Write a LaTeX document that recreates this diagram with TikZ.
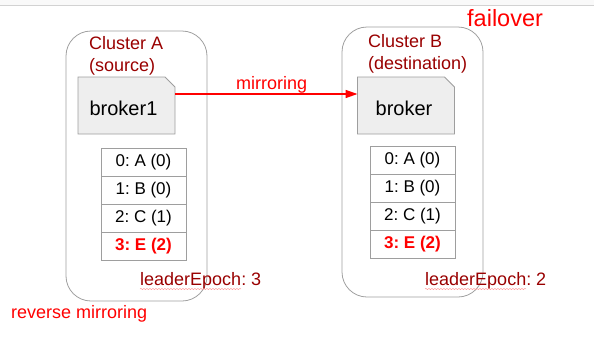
\documentclass[tikz,border=0pt]{standalone}
\usepackage{fontspec}
\setmainfont{Liberation Sans}
\frenchspacing
\usetikzlibrary{arrows.meta, positioning, backgrounds, decorations.pathmorphing}
\definecolor{darkred}{HTML}{990000}
\definecolor{brightred}{HTML}{FF0000}
\definecolor{boxfill}{HTML}{EEEEEE}
\definecolor{boxline}{HTML}{9E9E9E}
\definecolor{clusterline}{HTML}{A0A0A0}

\begin{document}
\begin{tikzpicture}[x=1pt, y=-1pt,
  cluster/.style={
    draw=clusterline, line width=0.8pt, rounded corners=25pt,
    minimum width=141pt, minimum height=270pt
  },
  broker/.style={
    minimum width=97pt, minimum height=57pt, inner sep=0pt, outer sep=0pt,
    font=\fontsize{20}{24}\selectfont
  },
  brokeredge/.style={fill=boxfill, draw=boxline, line width=0.8pt},
  cell/.style={
    draw=boxline, line width=0.8pt, minimum width=85pt, minimum height=28pt,
    inner sep=0pt, outer sep=0pt, font=\fontsize{17}{20}\selectfont
  },
  newest/.style={cell, text=brightred, font=\fontsize{17}{20}\selectfont\bfseries},
  title/.style={
    text=darkred, align=left, inner sep=0pt, anchor=north west,
    font=\fontsize{18}{22}\selectfont
  },
  epoch/.style={text=darkred, inner sep=0pt, anchor=base west, font=\fontsize{18}{22}\selectfont},
  note/.style={text=brightred, inner sep=0pt, anchor=base west, font=\fontsize{18}{22}\selectfont},
  arr/.style={-{Triangle[length=12pt, width=8pt]}, line width=1.5pt, brightred},
  squiggle/.style={
    red!45, line width=0.4pt, decorate,
    decoration={snake, amplitude=0.6pt, segment length=3pt}
  },
]

\useasboundingbox (0,0) rectangle (594,338);
\fill[gray!5] (0,0) rectangle (594,5);
\draw[gray!35] (0,5) -- (594,5);

%% ---- Clusters ----
\node[cluster] (ca) at (136.5,166) {};
\node[cluster] (cb) at (412.5,162) {};
\node[title] (ta) at (89,36) {Cluster A\\(source)};
\node[title] (tb) at (368,34) {Cluster B\\(destination)};

%% ---- Brokers ----
\node[broker] (b1) at (126.5,105.5) {};
\node[broker] (b2) at (406,105.5) {};
\begin{scope}[on background layer]
  \filldraw[brokeredge] (b1.north west) -- ([xshift=-10pt]b1.north east)
    -- ([yshift=-10pt]b1.north east) -- (b1.south east) -- (b1.south west) -- cycle;
  \filldraw[brokeredge] (b2.north west) -- ([xshift=-10pt]b2.north east)
    -- ([yshift=-10pt]b2.north east) -- (b2.south east) -- (b2.south west) -- cycle;
\end{scope}
\node[font=\fontsize{20}{24}\selectfont, inner sep=0pt] (n1) at (123.5,108) {broker1};
\node[font=\fontsize{20}{24}\selectfont, inner sep=0pt] (n2) at (404,108) {broker};

%% ---- Mirroring arrow ----
\draw[arr] ([yshift=11.5pt]b1.east) --
  node[pos=0.53, above, inner sep=0.5pt, text=brightred, font=\fontsize{18}{22}\selectfont] (mlabel) {mirroring}
  ([yshift=11.5pt]b2.west);

%% ---- Log of cluster A ----
\node[cell] (a0) at (143.5,162) {0: A (0)};
\node[cell, below=0pt of a0] (a1) {1: B (0)};
\node[cell, below=0pt of a1] (a2) {2: C (1)};
\node[newest, below=0pt of a2] (a3) {3: E (2)};

%% ---- Log of cluster B ----
\node[cell] (d0) at (412.5,160) {0: A (0)};
\node[cell, below=0pt of d0] (d1) {1: B (0)};
\node[cell, below=0pt of d1] (d2) {2: C (1)};
\node[newest, below=0pt of d2] (d3) {3: E (2)};

%% ---- Leader epochs ----
\node[epoch] (ea) at (140,285) {leaderEpoch: 3};
\node[epoch] (eb) at (425,285) {leaderEpoch: 2};
\draw[squiggle] ([yshift=-4pt]ea.base west) -- ++(101pt,0);
\draw[squiggle] ([yshift=-4pt]eb.base west) -- ++(101pt,0);

%% ---- Notes ----
\node[note, font=\fontsize{23.5}{28}\selectfont] (fo) at (467,26) {failover};
\node[note] (rm) at (11,318) {reverse mirroring};

\end{tikzpicture}
\end{document}
